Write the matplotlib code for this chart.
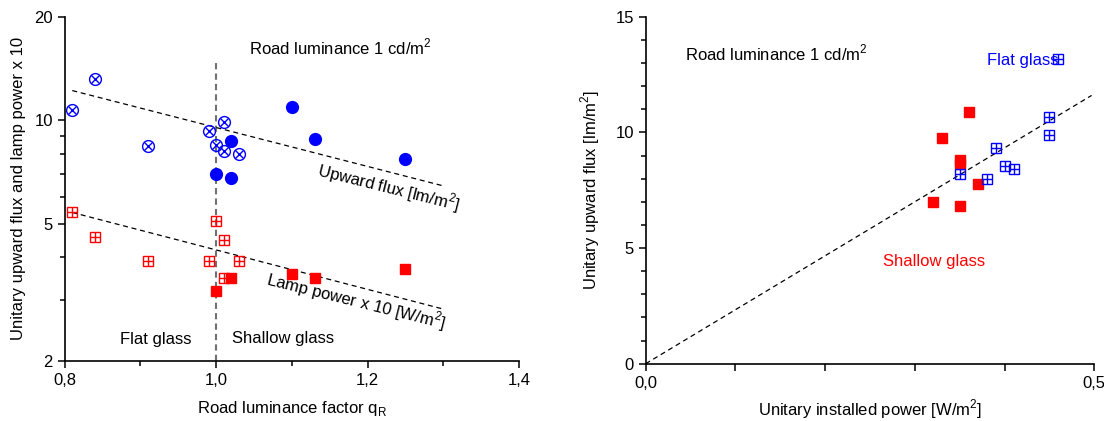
from matplotlib import pyplot as plt
from matplotlib.ticker import FixedLocator, FuncFormatter, NullFormatter
import numpy as np

plt.rcParams['font.family'] = ['Liberation Sans', 'DejaVu Sans']

# left panel: upward flux and lamp power x 10 vs road luminance factor qR
flat_flux_x = [0.81, 0.84, 0.91, 0.99, 1.01, 1.00, 1.01, 1.03]
flat_flux_y = [10.7, 13.2, 8.4, 9.3, 9.9, 8.5, 8.15, 8.0]
shallow_flux_x = [1.00, 1.02, 1.02, 1.10, 1.13, 1.25]
shallow_flux_y = [7.0, 8.7, 6.8, 10.9, 8.8, 7.7]
flat_power_x = [0.81, 0.84, 0.91, 0.99, 1.00, 1.01, 1.03, 1.01]
flat_power_y = [5.4, 4.57, 3.9, 3.9, 5.1, 4.48, 3.9, 3.49]
shallow_power_x = [1.00, 1.02, 1.10, 1.13, 1.25]
shallow_power_y = [3.19, 3.49, 3.59, 3.48, 3.69]
fit_x = [0.81, 1.30]
fit_flux_y = [12.2, 6.45]
fit_power_y = [5.4, 2.83]

# right panel: upward flux vs installed power
r_shallow_x = [0.36, 0.33, 0.35, 0.35, 0.37, 0.32, 0.35]
r_shallow_y = [10.9, 9.77, 8.8, 8.65, 7.75, 7.0, 6.83]
r_flat_x = [0.46, 0.45, 0.45, 0.39, 0.40, 0.41, 0.38, 0.35]
r_flat_y = [13.17, 10.67, 9.88, 9.33, 8.56, 8.43, 7.98, 8.21]
r_fit_x = [0.0, 0.497]
r_fit_y = [0.0, 11.6]

BLUE = '#0000ff'
RED = '#ff0000'
comma = FuncFormatter(lambda v, p: f'{v:.1f}'.replace('.', ','))


def style(ax):
    for s in ['top', 'right']:
        ax.spines[s].set_visible(False)
    for s in ['left', 'bottom']:
        ax.spines[s].set_linewidth(1.2)
    ax.tick_params(which='major', length=5, width=1.1, labelsize=12, direction='out')
    ax.tick_params(which='minor', length=3.5, width=1.1, direction='out')


def circ_x(ax, x, y, c):
    ax.plot(x, y, 'o', ms=8.5, mfc='none', mec=c, mew=1.0, ls='none')
    ax.plot(x, y, 'x', ms=6, mec=c, mew=1.0, ls='none')


def sq_plus(ax, x, y, c):
    ax.plot(x, y, 's', ms=7.5, mfc='none', mec=c, mew=1.0, ls='none')
    ax.plot(x, y, '+', ms=7.5, mec=c, mew=1.0, ls='none')


fig = plt.figure(figsize=(11.04, 4.21), dpi=100)

ax1 = fig.add_axes([0.0586, 0.1425, 0.4115, 0.818])
ax1.set_yscale('log')
ax1.set_xlim(0.8, 1.4)
ax1.set_ylim(2, 20)
ax1.plot([1.0, 1.0], [2, 15], ls=(0, (3, 2)), color='#707070', lw=1.5)
ax1.plot(fit_x, fit_flux_y, ls=(0, (4, 3)), color='black', lw=0.9)
ax1.plot(fit_x, fit_power_y, ls=(0, (4, 3)), color='black', lw=0.9)
circ_x(ax1, flat_flux_x, flat_flux_y, BLUE)
ax1.plot(shallow_flux_x, shallow_flux_y, 'o', ms=8.5, color=BLUE, ls='none')
sq_plus(ax1, flat_power_x, flat_power_y, RED)
ax1.plot(shallow_power_x, shallow_power_y, 's', ms=7.5, color=RED, ls='none')
ax1.xaxis.set_major_locator(FixedLocator([0.8, 1.0, 1.2, 1.4]))
ax1.xaxis.set_minor_locator(FixedLocator([0.9, 1.1, 1.3]))
ax1.xaxis.set_major_formatter(comma)
ax1.yaxis.set_major_locator(FixedLocator([2, 5, 10, 20]))
ax1.yaxis.set_minor_locator(FixedLocator([3, 4, 6, 7, 8, 9]))
ax1.yaxis.set_major_formatter(FuncFormatter(lambda v, p: f'{v:g}'))
ax1.yaxis.set_minor_formatter(NullFormatter())
style(ax1)
ax1.set_xlabel('Road luminance factor q$_\\mathregular{R}$', fontsize=12, labelpad=8)
ax1.set_ylabel('Unitary upward flux and lamp power x 10', fontsize=12, labelpad=6)
ax1.text(1.044, 16.3, 'Road luminance 1 cd/m$^\\mathregular{2}$', fontsize=12, va='center')
ax1.text(1.228, 6.4, 'Upward flux [lm/m$^\\mathregular{2}$]', fontsize=12, rotation=-14,
         ha='center', va='center', rotation_mode='anchor')
ax1.text(1.185, 3.0, 'Lamp power x 10 [W/m$^\\mathregular{2}$]', fontsize=12, rotation=-14,
         ha='center', va='center', rotation_mode='anchor')
ax1.text(0.92, 2.31, 'Flat glass', fontsize=12, ha='center', va='center')
ax1.text(1.088, 2.32, 'Shallow glass', fontsize=12, ha='center', va='center')

ax2 = fig.add_axes([0.5849, 0.1361, 0.4063, 0.824])
ax2.set_xlim(0, 0.5)
ax2.set_ylim(0, 15)
ax2.plot(r_fit_x, r_fit_y, ls=(0, (4, 3)), color='black', lw=0.9)
ax2.plot(r_shallow_x, r_shallow_y, 's', ms=7.5, color=RED, ls='none')
sq_plus(ax2, r_flat_x, r_flat_y, BLUE)
ax2.xaxis.set_major_locator(FixedLocator([0.0, 0.5]))
ax2.xaxis.set_minor_locator(FixedLocator([0.1, 0.2, 0.3, 0.4]))
ax2.xaxis.set_major_formatter(comma)
ax2.yaxis.set_major_locator(FixedLocator([0, 5, 10, 15]))
ax2.yaxis.set_minor_locator(FixedLocator([v for v in range(16) if v % 5]))
style(ax2)
ax2.tick_params(axis='x', which='minor', length=5)
ax2.set_xlabel('Unitary installed power [W/m$^\\mathregular{2}$]', fontsize=12, labelpad=5)
ax2.set_ylabel('Unitary upward flux [lm/m$^\\mathregular{2}$]', fontsize=12, labelpad=10)
ax2.text(0.0438, 13.41, 'Road luminance 1 cd/m$^\\mathregular{2}$', fontsize=12, va='center')
ax2.text(0.380, 13.12, 'Flat glass', fontsize=12, va='center', color=BLUE)
ax2.text(0.2648, 4.44, 'Shallow glass', fontsize=12, va='center', color=RED)

fig.savefig('out.png', dpi=100)
